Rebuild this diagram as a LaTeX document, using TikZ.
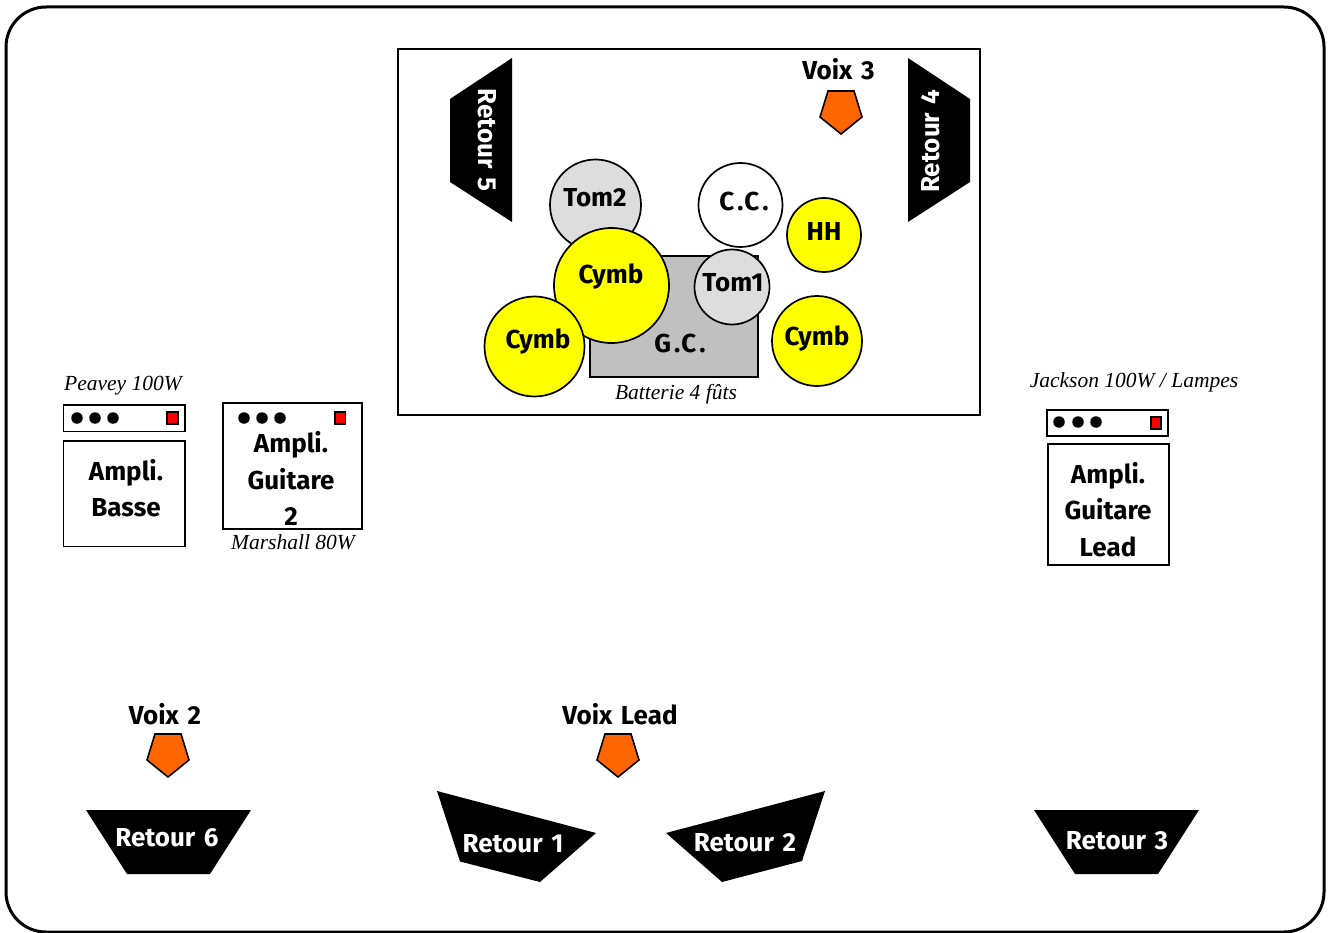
\documentclass[tikz,border=0pt]{standalone}
\usepackage{fontspec}
\setmainfont[WordSpace=1.4]{Fira Sans}
\newfontfamily\noteface{Liberation Serif}
\definecolor{tomgray}{HTML}{DDDDDD}
\definecolor{gcgray}{HTML}{C0C0C0}
\definecolor{micorange}{HTML}{FF6600}
\definecolor{cymyellow}{HTML}{FFFF00}
\definecolor{ledred}{HTML}{FF0000}
\tikzset{
  lab/.style={inner sep=0pt,align=center,font=\fontsize{26}{36.2}\selectfont\bfseries},
  one/.style={lab,text height=19pt,text depth=0pt},
  ret/.style={one,text=white},
  note/.style={inner sep=0pt,font=\fontsize{21.5}{24}\noteface\itshape},
  wedge/.style={fill=black,draw=none},
  mic/.style={fill=micorange,draw=black,line width=1.6pt,line join=miter},
  kit/.style={draw=black,line width=1.7pt},
  box/.style={draw=black,line width=1.8pt,fill=white},
  knob/.style={circle,fill=black,inner sep=0pt,minimum size=11.5pt},
  led/.style={fill=ledred,draw=black,line width=1.5pt}
}
\newcommand{\micshape}[2]{\draw[mic,shift={(#1,#2)}] (-13,0) -- (13,0) -- (21,26) -- (0,43) -- (-21,26) -- cycle;}
\begin{document}
\begin{tikzpicture}[x=1pt,y=-1pt]
\useasboundingbox (0,0) rectangle (1330,933);
\fill[white] (0,0) rectangle (1330,933);
\draw[line width=3pt,rounded corners=40pt] (6,7) rectangle (1324,932);
% drum riser
\draw[line width=2.4pt] (398,49) rectangle (980,415);
\path[wedge] (512,58) -- (450,99) -- (450,182) -- (512,222) -- cycle;
\node[ret,rotate=-90] (r5) at (488,140) {Retour 5};
\path[wedge] (908,58) -- (970,99) -- (970,182) -- (908,222) -- cycle;
\node[ret,rotate=90] (r4) at (929.5,141) {Retour 4};
\node[one] (v3) at (838.5,70) {Voix 3};
\micshape{841}{91}
\draw[kit,fill=gcgray] (590,256) rectangle (758,377);
\node[one] (gc) at (680,343) {G\kern3pt.\kern1pt C\kern3pt.};
\draw[kit,fill=tomgray] (595.5,205) circle (45.5);
\node[one] (tom2) at (595,197) {Tom2};
\draw[kit,fill=white] (740.5,205) circle (42);
\node[one] (cc) at (744,201) {C\kern3pt.\kern1pt C\kern3pt.};
\draw[kit,fill=cymyellow] (824,235) circle (37);
\node[one] (hh) at (824,231) {HH};
\draw[kit,fill=cymyellow] (611.5,285.5) circle (57.5);
\node[one] (cy1) at (611,274) {Cymb};
\draw[kit,fill=cymyellow] (534.5,346.5) circle (50);
\node[one] (cy2) at (538,339) {Cymb};
\draw[kit,fill=cymyellow] (817,341) circle (45);
\node[one] (cy3) at (817,336) {Cymb};
\draw[kit,fill=tomgray] (732,287) circle (37.5);
\node[one] (tom1) at (733,282) {Tom1};
\node[note] (bat) at (676,394) {Batterie 4 fûts};
% Bass amp
\node[note] (pv) at (123,386) {Peavey 100W};
\draw[box] (63.5,405) rectangle (185,431.5);
\node[knob] (b1) at (77,418) {};
\node[knob] (b2) at (95,418) {};
\node[knob] (b3) at (113,418) {};
\draw[led] (167,412) rectangle (178,424);
\draw[box] (63.5,441) rectangle (185,546.5);
\node[lab] (basse) at (126,488) {Ampli.\\Basse};
% Guitar 2 amp
\draw[box] (223,403) rectangle (362,529);
\node[knob] (g1) at (244,418) {};
\node[knob] (g2) at (262,418) {};
\node[knob] (g3) at (280,418) {};
\draw[led] (335,412) rectangle (345.5,424);
\node[lab] (g2t) at (291,478.5) {Ampli.\\Guitare\\2};
\node[note] (ma) at (293,542) {Marshall 80W};
% Lead amp
\node[note] (ja) at (1134,382) {Jackson 100W / Lampes};
\draw[box] (1047,410) rectangle (1168,436);
\node[knob] (l1) at (1059,422) {};
\node[knob] (l2) at (1078,422) {};
\node[knob] (l3) at (1096,422) {};
\draw[led] (1151,417) rectangle (1161,429);
\draw[box] (1048,444) rectangle (1169,565);
\node[lab] (lead) at (1108,509.5) {Ampli.\\Guitare\\Lead};
% Front line
\node[one] (v2) at (165,715) {Voix 2};
\micshape{168}{734}
\node[one] (vl) at (620,715) {Voix Lead};
\micshape{618}{734}
\path[wedge] (86,810) -- (251,810) -- (210,874) -- (127,874) -- cycle;
\node[ret] (r6) at (167,837) {Retour 6};
\path[wedge] (437,791) -- (596,833) -- (540,882) -- (460,861.5) -- cycle;
\node[ret] (r1) at (513,843) {Retour 1};
\path[wedge] (825,791) -- (666,833) -- (722,882) -- (802,861) -- cycle;
\node[ret] (r2) at (745,842) {Retour 2};
\path[wedge] (1034,810) -- (1199,810) -- (1158,874) -- (1075,874) -- cycle;
\node[ret] (r3) at (1117,840) {Retour 3};
\end{tikzpicture}
\end{document}
